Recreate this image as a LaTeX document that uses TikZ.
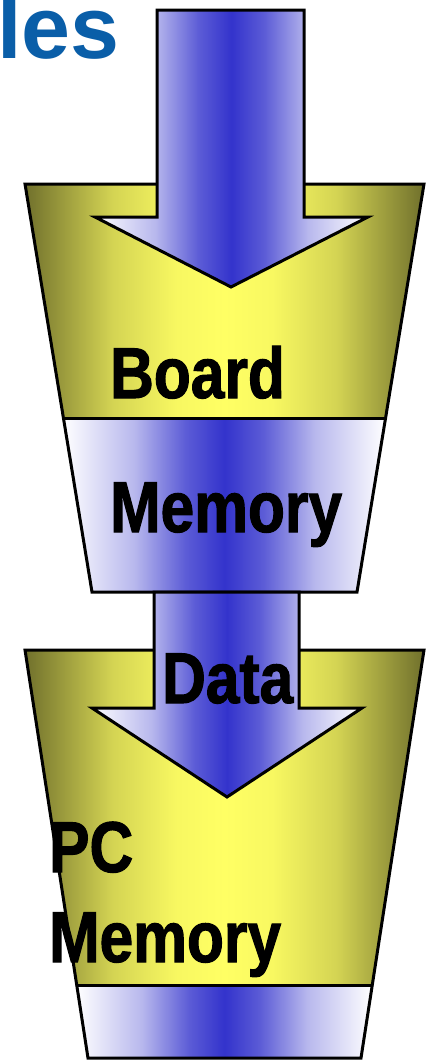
\documentclass[tikz,border=0pt]{standalone}
\usepackage{fontspec}
\setmainfont{Liberation Sans}
\newfontfamily\lblfont[FakeStretch=0.84,FakeBold=1.5]{Liberation Sans}

\definecolor{flowblue}{RGB}{51,51,204}
\definecolor{bucketolive}{RGB}{112,112,44}
\definecolor{bucketyellow}{RGB}{255,255,100}
\definecolor{titleblue}{RGB}{10,94,168}

% white edges, blue core
\pgfdeclarehorizontalshading{flowband}{100bp}{color(0bp)=(white); color(25bp)=(white);
	color(36bp)=(flowblue!35!white); color(44bp)=(flowblue!80!white); color(50bp)=(flowblue);
	color(56bp)=(flowblue!80!white); color(64bp)=(flowblue!35!white);
	color(75bp)=(white); color(100bp)=(white)}
% olive rim, yellow middle
\pgfdeclarehorizontalshading{bucketfill}{100bp}{color(0bp)=(bucketolive); color(25bp)=(bucketolive);
	color(36bp)=(bucketyellow!70!bucketolive); color(44bp)=(bucketyellow!95!bucketolive);
	color(50bp)=(bucketyellow); color(56bp)=(bucketyellow!95!bucketolive);
	color(64bp)=(bucketyellow!70!bucketolive); color(75bp)=(bucketolive); color(100bp)=(bucketolive)}

\begin{document}
\begin{tikzpicture}[x=1pt,y=-1pt,
	bucket/.style={shading=bucketfill},
	band/.style={shading=flowband},
	outline/.style={draw=black,line width=3pt,line join=miter},
	lbl/.style={anchor=base west,inner sep=0pt,font=\lblfont\bfseries\fontsize{72}{90}\selectfont}
	]
	\useasboundingbox (0,0) rectangle (431,1060);

	% title, cut off at the left
	\node[anchor=base west,inner sep=0pt,text=titleblue,
		font=\bfseries\fontsize{88}{100}\selectfont] (title) at (-3,58) {les};

	% board memory bucket
	\shade[bucket] (25,184) -- (424,184) -- (385.6,418) -- (63.4,418) -- cycle;
	\shade[band] (63.4,418) -- (385.6,418) -- (357,592) -- (92,592) -- cycle;
	\draw[outline] (25,184) -- (424,184) -- (357,592) -- (92,592) -- cycle;
	\draw[outline] (63.4,418) -- (385.6,418);

	% incoming data
	\shadedraw[band,outline] (157,10) -- (304,10) -- (304,217) -- (368,217)
		-- (231,287) -- (95,217) -- (157,217) -- cycle;

	% pc memory bucket
	\shade[bucket] (25,650) -- (424,650) -- (372.3,985) -- (76.7,985) -- cycle;
	\shade[band] (76.7,985) -- (372.3,985) -- (361,1058) -- (88,1058) -- cycle;
	\draw[outline] (25,650) -- (424,650) -- (361,1058) -- (88,1058) -- cycle;
	\draw[outline] (76.7,985) -- (372.3,985);

	% transfer to the pc
	\shadedraw[band,outline] (154,592) -- (299,592) -- (299,708) -- (362,708)
		-- (227,797) -- (92,708) -- (154,708) -- cycle;

	\node[lbl] (board) at (110,398) {Board};
	\node[lbl] (boardmem) at (110,532) {Memory};
	\node[lbl] (data) at (162,703) {Data};
	\node[lbl] (pc) at (49,872) {PC};
	\node[lbl] (pcmem) at (49,962) {Memory};
\end{tikzpicture}
\end{document}
